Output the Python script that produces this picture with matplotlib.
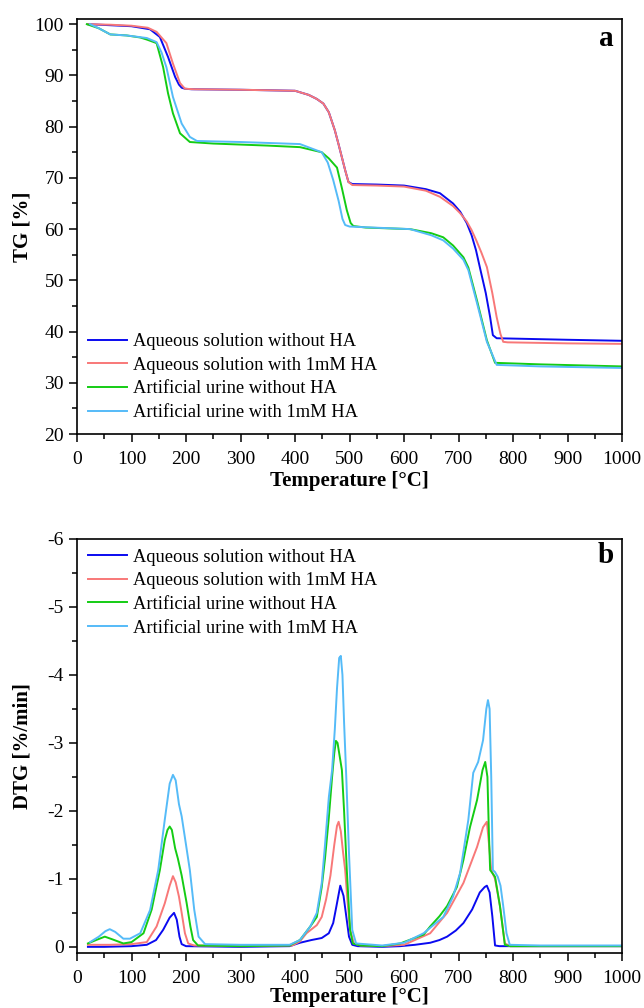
import matplotlib
matplotlib.use('Agg')
import matplotlib.pyplot as plt
from matplotlib.ticker import MultipleLocator

plt.rcParams['font.family'] = ['Liberation Serif', 'DejaVu Serif']

# series names and colours
labels = ['Aqueous solution without HA', 'Aqueous solution with 1mM HA',
          'Artificial urine without HA', 'Artificial urine with 1mM HA']
colors = ['#0A0AF0', '#F87878', '#14CC14', '#55BBF8']

# ---- TG data (temperature in °C, mass in %) ----
tg_blue_T = [20, 60, 100, 134, 152, 167, 180, 187, 192, 198, 210, 300, 400, 425, 440, 452, 462, 473, 480, 486,
             492, 498, 505, 550, 600, 640, 666, 690, 703, 715, 724, 732, 739, 750, 758, 763, 770, 900, 1000]
tg_blue = [100, 99.8, 99.6, 99.0, 97.5, 93.6, 89.7, 88.2, 87.6, 87.4, 87.3, 87.2, 87.0, 86.2, 85.4, 84.5, 82.8,
           79.3, 76.5, 74.0, 71.5, 69.2, 68.8, 68.7, 68.5, 67.8, 67.0, 65.0, 63.4, 61.2, 58.8, 55.9, 52.6, 47.5,
           42.8, 39.3, 38.7, 38.4, 38.2]

tg_red_T = [20, 60, 100, 130, 146, 164, 176, 189, 198, 215, 300, 400, 425, 440, 452, 462, 473, 480, 486, 492,
            498, 505, 550, 600, 640, 666, 690, 703, 715, 724, 733, 742, 752, 762, 770, 777, 782, 790, 900, 1000]
tg_red = [100, 99.9, 99.7, 99.3, 98.5, 96.3, 92.3, 88.5, 87.4, 87.3, 87.2, 87.0, 86.2, 85.4, 84.5, 82.8, 79.3,
          76.5, 74.0, 71.5, 69.2, 68.6, 68.5, 68.3, 67.5, 66.3, 64.5, 63.1, 61.5, 59.8, 57.7, 55.4, 52.6, 47.5,
          42.8, 39.5, 38.0, 37.9, 37.7, 37.6]

tg_green_T = [18, 40, 61, 91, 116, 128, 146, 158, 167, 176, 189, 207, 250, 350, 409, 449, 462, 477, 486, 495,
              502, 507, 530, 611, 650, 672, 690, 709, 718, 734, 752, 767, 850, 1000]
tg_green = [100, 99.2, 98.0, 97.8, 97.4, 97.0, 96.3, 91.6, 86.5, 82.6, 78.7, 77.0, 76.7, 76.3, 76.0, 75.0, 73.8,
            72.0, 68.0, 63.7, 61.2, 60.6, 60.3, 60.0, 59.2, 58.4, 56.8, 54.5, 52.5, 46.0, 38.3, 33.9, 33.6, 33.2]

tg_cyan_T = [24, 40, 61, 91, 128, 146, 155, 164, 176, 192, 207, 220, 300, 409, 449, 460, 470, 480, 487, 492,
             500, 611, 650, 672, 690, 709, 718, 734, 752, 770, 850, 1000]
tg_cyan = [100, 99.2, 98.0, 97.8, 97.3, 96.5, 94.5, 91.6, 85.8, 80.6, 78.0, 77.2, 77.0, 76.6, 75.0, 73.0, 69.6,
           65.5, 62.0, 60.8, 60.5, 60.0, 58.8, 57.8, 56.2, 54.0, 52.0, 45.5, 38.0, 33.5, 33.2, 32.9]

# ---- DTG data (temperature in °C, rate in %/min) ----
dtg_blue_T = [20, 50, 100, 128, 145, 158, 170, 178, 183, 188, 192, 200, 300, 390, 409, 430, 449, 462, 470, 476,
              483, 489, 494, 499, 505, 515, 560, 593, 620, 648, 665, 679, 695, 709, 725, 739, 748, 752, 757, 762,
              767, 775, 900, 1000]
dtg_blue = [0, 0, -0.01, -0.03, -0.1, -0.25, -0.43, -0.5, -0.4, -0.15, -0.04, -0.01, 0.0, -0.01, -0.06, -0.1,
            -0.13, -0.2, -0.35, -0.6, -0.9, -0.75, -0.45, -0.15, -0.03, -0.01, 0.0, -0.01, -0.03, -0.06, -0.1,
            -0.15, -0.24, -0.35, -0.55, -0.8, -0.88, -0.9, -0.8, -0.45, -0.02, -0.01, -0.01, -0.01]

dtg_red_T = [20, 60, 100, 128, 146, 161, 170, 176, 181, 187, 192, 198, 204, 215, 300, 395, 409, 421, 440, 449,
             457, 465, 472, 477, 480, 484, 488, 492, 496, 501, 508, 520, 560, 600, 648, 679, 709, 734, 745, 752,
             756, 760, 767, 776, 785, 795, 900, 1000]
dtg_red = [-0.03, -0.03, -0.04, -0.07, -0.3, -0.64, -0.9, -1.04, -0.95, -0.74, -0.5, -0.2, -0.05, -0.02, -0.01,
           -0.02, -0.08, -0.2, -0.32, -0.44, -0.7, -1.05, -1.5, -1.78, -1.84, -1.7, -1.4, -1.13, -0.7, -0.25,
           -0.05, -0.02, -0.01, -0.03, -0.2, -0.5, -0.94, -1.47, -1.76, -1.84, -1.5, -1.13, -1.0, -0.6, -0.05,
           -0.01, -0.01, -0.01]

dtg_green_T = [20, 35, 51, 65, 85, 100, 122, 137, 152, 161, 166, 170, 174, 180, 185, 192, 201, 208, 213, 222,
               300, 390, 409, 428, 440, 449, 455, 462, 468, 472, 475, 478, 482, 486, 490, 495, 501, 506, 520, 560,
               593, 636, 648, 665, 679, 697, 709, 721, 734, 744, 749, 753, 756, 758, 767, 776, 785, 795, 900, 1000]
dtg_green = [-0.05, -0.1, -0.15, -0.11, -0.05, -0.07, -0.2, -0.55, -1.13, -1.57, -1.72, -1.77, -1.72, -1.45,
             -1.3, -1.05, -0.65, -0.3, -0.1, -0.02, -0.01, -0.02, -0.1, -0.3, -0.44, -0.88, -1.3, -1.9, -2.5,
             -2.85, -3.03, -3.0, -2.8, -2.6, -2.0, -1.13, -0.25, -0.05, -0.02, -0.01, -0.05, -0.18, -0.3, -0.45,
             -0.6, -0.88, -1.28, -1.76, -2.16, -2.6, -2.72, -2.5, -1.6, -1.13, -1.03, -0.6, -0.03, -0.01, -0.01,
             -0.01]

dtg_cyan_T = [24, 40, 52, 60, 70, 85, 97, 116, 134, 149, 161, 170, 176, 181, 187, 192, 200, 207, 215, 223, 235,
              300, 390, 409, 428, 440, 449, 455, 462, 468, 473, 477, 481, 484, 487, 490, 494, 499, 505, 512, 560,
              600, 636, 648, 672, 690, 703, 718, 727, 736, 745, 751, 754, 757, 760, 763, 767, 772, 777, 782, 788,
              794, 850, 1000]
dtg_cyan = [-0.07, -0.15, -0.23, -0.26, -0.22, -0.12, -0.12, -0.2, -0.54, -1.13, -1.87, -2.4, -2.53, -2.45,
            -2.1, -1.92, -1.5, -1.13, -0.55, -0.15, -0.04, -0.03, -0.03, -0.1, -0.3, -0.5, -0.94, -1.5, -2.2,
            -2.6, -3.2, -3.8, -4.25, -4.28, -4.0, -3.3, -2.5, -1.38, -0.25, -0.05, -0.02, -0.06, -0.2, -0.28,
            -0.44, -0.74, -1.09, -1.87, -2.56, -2.72, -3.04, -3.5, -3.63, -3.5, -2.5, -1.13, -1.1, -1.03, -0.9,
            -0.6, -0.2, -0.03, -0.02, -0.02]

tg_series = [(tg_blue_T, tg_blue), (tg_red_T, tg_red), (tg_green_T, tg_green), (tg_cyan_T, tg_cyan)]
dtg_series = [(dtg_blue_T, dtg_blue), (dtg_red_T, dtg_red), (dtg_green_T, dtg_green), (dtg_cyan_T, dtg_cyan)]

fig = plt.figure(figsize=(6.44, 10.08), dpi=100)
ax1 = fig.add_axes([0.1196, 0.5694, 0.8463, 0.4117])
ax2 = fig.add_axes([0.1196, 0.0546, 0.8463, 0.4107])


def style_axis(ax, xpad):
    for sp in ax.spines.values():
        sp.set_linewidth(1.2)
    ax.tick_params(which='both', direction='out', top=False, right=False, labelsize=14, width=1.1)
    ax.tick_params(which='major', length=6)
    ax.tick_params(which='minor', length=3.5)
    ax.tick_params(axis='x', which='major', pad=6.5)
    ax.set_xlim(0, 1000)
    ax.xaxis.set_major_locator(MultipleLocator(100))
    ax.xaxis.set_minor_locator(MultipleLocator(50))
    ax.set_xlabel('Temperature [°C]', fontsize=15, fontweight='bold', labelpad=xpad)


# panel a: TG
for (t, y), c, lab in zip(tg_series, colors, labels):
    ax1.plot(t, y, color=c, lw=1.4, label=lab)
style_axis(ax1, 2)
ax1.set_ylim(20, 101)
ax1.yaxis.set_major_locator(MultipleLocator(10))
ax1.yaxis.set_minor_locator(MultipleLocator(5))
ax1.set_ylabel('TG [%]', fontsize=15, fontweight='bold')
ax1.yaxis.set_label_coords(-0.081, 0.5)
ax1.text(0.985, 0.985, 'a', transform=ax1.transAxes, ha='right', va='top', fontsize=21, fontweight='bold')
ax1.legend(loc='lower left', bbox_to_anchor=(-0.003, 0.0), frameon=False, fontsize=13.3,
           handlelength=2.1, handletextpad=0.3, labelspacing=0.36, borderaxespad=0.3)

# panel b: DTG
for (t, y), c, lab in zip(dtg_series, colors, labels):
    ax2.plot(t, y, color=c, lw=1.4, label=lab)
style_axis(ax2, -0.5)
ax2.set_ylim(0.09, -6)
ax2.yaxis.set_minor_locator(MultipleLocator(0.5))
ax2.set_yticks([0, -1, -2, -3, -4, -5, -6])
ax2.set_yticklabels(['0', '-1', '-2', '-3', '-4', '-5', '-6'])
ax2.set_ylabel('DTG [%/min]', fontsize=15, fontweight='bold')
ax2.yaxis.set_label_coords(-0.081, 0.5)
ax2.text(0.985, 0.992, 'b', transform=ax2.transAxes, ha='right', va='top', fontsize=21, fontweight='bold')
ax2.legend(loc='upper left', bbox_to_anchor=(-0.003, 1.008), frameon=False, fontsize=13.3,
           handlelength=2.1, handletextpad=0.3, labelspacing=0.36, borderaxespad=0.3)

fig.savefig('out.png', dpi=100)
